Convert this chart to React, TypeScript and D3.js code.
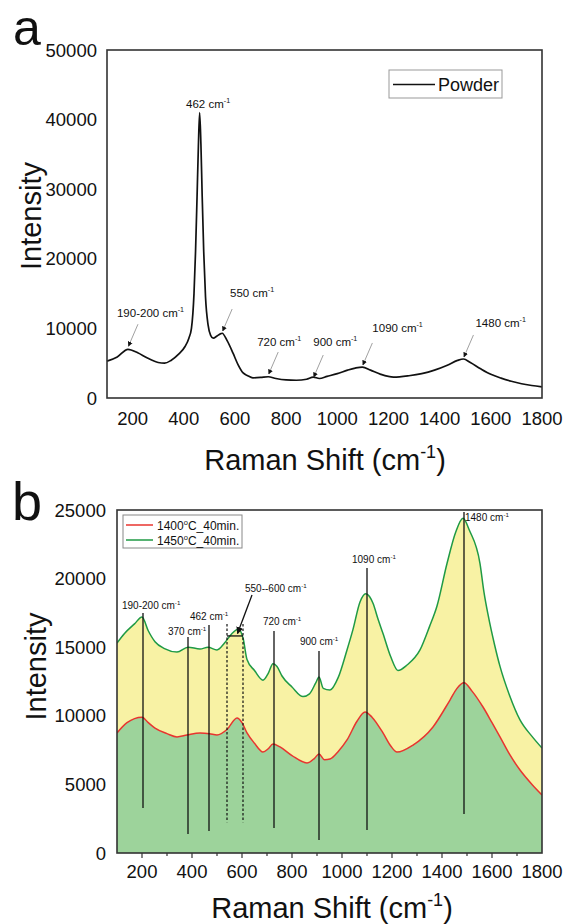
import React from 'react';
import * as d3 from 'd3';

const FONT = '"Liberation Sans", Arial, Helvetica, sans-serif';

// ---------- Data ----------
const xTicks = [200, 400, 600, 800, 1000, 1200, 1400, 1600, 1800];
const xMinorTicks = [200, 300, 400, 500, 600, 700, 800, 900, 1000, 1100, 1200, 1300, 1400, 1500, 1600, 1700];
const yTicksA = [0, 10000, 20000, 30000, 40000, 50000];
const yTicksB = [0, 5000, 10000, 15000, 20000, 25000];

// Panel a: Powder spectrum [Raman shift, intensity]
const powder: [number, number][] = [
  [100, 5300], [140, 5900], [182, 7000], [220, 6500], [260, 5700], [300, 5100], [325, 5000],
  [350, 5400], [380, 6300], [405, 7400], [420, 8600], [430, 10000], [440, 15000], [446, 21000],
  [452, 29000], [457, 36000], [462, 41000], [467, 36500], [472, 29000], [478, 21000], [485, 14500],
  [495, 10500], [505, 9000], [515, 8600], [530, 8900], [542, 9200], [550, 9300], [570, 8200],
  [593, 6400], [612, 4800], [632, 3600], [650, 3200], [670, 2900], [700, 2950], [730, 3050],
  [760, 2800], [800, 2600], [840, 2550], [880, 2700], [906, 3000], [930, 2800], [960, 3100],
  [1000, 3500], [1040, 4000], [1070, 4300], [1098, 4450], [1130, 4000], [1170, 3400], [1220, 3000],
  [1280, 3200], [1330, 3500], [1380, 4000], [1430, 4700], [1470, 5400], [1493, 5600], [1520, 5100],
  [1560, 4200], [1600, 3400], [1640, 2850], [1680, 2400], [1720, 2050], [1760, 1800], [1800, 1600],
];

// Panel b: 1450°C_40min (green line, yellow fill)
const s1450: [number, number][] = [
  [100, 15300], [130, 16000], [170, 16700], [200, 17200], [225, 16200], [252, 15400], [290, 14900],
  [340, 14650], [384, 15000], [432, 14870], [464, 15000], [500, 14800], [530, 15300], [560, 16000],
  [585, 16300], [605, 15600], [620, 14100], [650, 13300], [684, 12600], [705, 13100], [724, 13800],
  [740, 13600], [760, 12900], [800, 12100], [844, 11400], [870, 11600], [895, 12400], [908, 12830],
  [925, 12000], [952, 11880], [985, 12800], [1020, 14800], [1044, 16300], [1072, 18300], [1095, 18900],
  [1110, 18700], [1124, 18200], [1145, 17000], [1164, 16000], [1195, 14300], [1224, 13300], [1260, 13700],
  [1312, 14800], [1350, 16500], [1380, 18000], [1420, 21100], [1455, 23400], [1484, 24400], [1510, 23500],
  [1552, 21100], [1568, 19000], [1585, 17300], [1610, 15200], [1632, 13600], [1670, 11500], [1712, 9700],
  [1760, 8500], [1800, 7650],
];

// Panel b: 1400°C_40min (red line, green fill)
const s1400: [number, number][] = [
  [100, 8750], [140, 9500], [200, 9900], [225, 9500], [252, 9100], [300, 8700], [340, 8460],
  [380, 8600], [432, 8750], [470, 8700], [500, 8600], [540, 9000], [580, 9840], [600, 9500],
  [620, 8750], [650, 8000], [684, 7360], [705, 7600], [724, 7950], [752, 7730], [800, 7100],
  [860, 6560], [890, 6900], [908, 7220], [930, 6800], [952, 6850], [985, 7400], [1020, 8240],
  [1060, 9600], [1092, 10280], [1120, 9900], [1164, 8750], [1195, 7800], [1220, 7360], [1284, 7870],
  [1364, 9190], [1432, 11150], [1460, 12000], [1488, 12400], [1520, 11800], [1564, 10640], [1600, 9500],
  [1632, 8460], [1670, 7200], [1712, 6050], [1760, 5000], [1800, 4230],
];

// Panel a annotations: arrow tip on the peak, label start (cm-1, intensity)
const annA = [
  { name: '190-200 ', tip: [182, 7300], label: [139, 11640] },
  { name: '550 ', tip: [550, 9480], label: [581, 14510] },
  { name: '720 ', tip: [730, 3300], label: [687, 7470] },
  { name: '900 ', tip: [906, 2870], label: [906, 7470] },
  { name: '1090 ', tip: [1098, 4600], label: [1137, 9480] },
  { name: '1480 ', tip: [1493, 5750], label: [1540, 10200] },
];
const annA462 = { name: '462 ', label: [409, 41700] };

// Panel b annotations: vertical marker lines
const annB = [
  { name: '190-200 ', x: 204, top: 17500, bottom: 3280, label: [120, 17790] },
  { name: '370 ', x: 384, top: 15750, bottom: 1385, label: [304, 15890] },
  { name: '462 ', x: 468, top: 16620, bottom: 1600, label: [392, 16990] },
  { name: '720 ', x: 728, top: 16180, bottom: 1820, label: [684, 16620] },
  { name: '900 ', x: 908, top: 14730, bottom: 950, label: [832, 15160] },
  { name: '1090 ', x: 1100, top: 20780, bottom: 1680, label: [1040, 21140] },
  { name: '1480 ', x: 1488, top: 24860, bottom: 2840, label: [1492, 24200] },
];
const bandB = {
  name: '550--600 ', x0: 540, x1: 604, top: 16700, bottom: 2250, box: 15820,
  from: [640, 18810], to: [582, 16000], label: [612, 19030],
};

const legendB = [
  { name: '1400', color: '#e8342f' },
  { name: '1450', color: '#1f9a45' },
];

// ---------- Helpers ----------
function CmText({ x, y, size, prefix, anchor = 'start' }: any) {
  return (
    <text x={x} y={y} fontSize={size} fontFamily={FONT} fill="#111" textAnchor={anchor}>
      {prefix}cm
      <tspan fontSize={size * 0.62} dy={-size * 0.42}>-1</tspan>
    </text>
  );
}

function AxisTitle({ x, y, size }: any) {
  return (
    <text x={x} y={y} fontSize={size} fontFamily={FONT} fill="#111" textAnchor="middle">
      Raman Shift (cm
      <tspan fontSize={size * 0.62} dy={-size * 0.42}>-1</tspan>
      <tspan dy={size * 0.42}>)</tspan>
    </text>
  );
}

export default function App() {
  // Panel a geometry
  const A = { l: 107, r: 542, t: 50, b: 398 };
  const xA = d3.scaleLinear().domain([100, 1800]).range([A.l, A.r]);
  const yA = d3.scaleLinear().domain([0, 50000]).range([A.b, A.t]);
  const lineA = d3.line<[number, number]>().x(d => xA(d[0])).y(d => yA(d[1])).curve(d3.curveMonotoneX);

  // Panel b geometry
  const B = { l: 117, r: 542, t: 510, b: 853 };
  const xB = d3.scaleLinear().domain([100, 1800]).range([B.l, B.r]);
  const yB = d3.scaleLinear().domain([0, 25000]).range([B.b, B.t]);
  const lineB = d3.line<[number, number]>().x(d => xB(d[0])).y(d => yB(d[1])).curve(d3.curveMonotoneX);
  const areaB = d3.area<[number, number]>().x(d => xB(d[0])).y0(yB(0)).y1(d => yB(d[1])).curve(d3.curveMonotoneX);

  const tickFont = 18.5;
  const titleFont = 29;

  return (
    <svg width={565} height={924} style={{ position: 'absolute', left: 0, top: 0, background: '#fff' }}>
      <defs>
        <marker id="arr" viewBox="0 0 10 10" refX="9" refY="5" markerWidth="5" markerHeight="6"
          markerUnits="userSpaceOnUse" orient="auto">
          <path d="M0,0 L10,5 L0,10 z" fill="#111" />
        </marker>
        <marker id="arr2" viewBox="0 0 10 10" refX="9" refY="5" markerWidth="7" markerHeight="7"
          markerUnits="userSpaceOnUse" orient="auto">
          <path d="M0,0 L10,5 L0,10 z" fill="#111" />
        </marker>
        <clipPath id="clipB">
          <rect x={B.l} y={B.t} width={B.r - B.l} height={B.b - B.t} />
        </clipPath>
      </defs>

      {/* ===== Panel a ===== */}
      <text x={13} y={45} fontSize={50} fontFamily={FONT} fill="#111">a</text>
      {yTicksA.map(v => (
        <text key={v} x={97} y={yA(v)} dy="0.36em" fontSize={tickFont} fontFamily={FONT} textAnchor="end" fill="#111">{v}</text>
      ))}
      {xTicks.map(v => (
        <text key={v} x={xA(v)} y={425} fontSize={tickFont} fontFamily={FONT} textAnchor="middle" fill="#111">{v}</text>
      ))}
      <text transform={`translate(41,${(A.t + A.b) / 2 - 8}) rotate(-90)`} fontSize={titleFont} fontFamily={FONT}
        textAnchor="middle" fill="#111">Intensity</text>
      <AxisTitle x={325} y={470} size={titleFont} />

      <path d={lineA(powder) || ''} fill="none" stroke="#111" strokeWidth={1.7} />
      {annA.map(a => {
        const tx = xA(a.tip[0]);
        const ty = yA(a.tip[1]);
        return (
          <g key={a.name}>
            <line x1={tx + 10} y1={ty - 23} x2={tx + 0.5} y2={ty - 1} stroke="#888" strokeWidth={0.8} markerEnd="url(#arr)" />
            <CmText x={xA(a.label[0])} y={yA(a.label[1])} size={11.5} prefix={a.name} />
          </g>
        );
      })}
      <CmText x={xA(annA462.label[0])} y={yA(annA462.label[1])} size={11.5} prefix={annA462.name} />

      <rect x={389} y={70} width={113} height={28} fill="#fff" stroke="#999" strokeWidth={1} />
      <line x1={393} x2={435} y1={84.5} y2={84.5} stroke="#111" strokeWidth={1.6} />
      <text x={438} y={91} fontSize={18} fontFamily={FONT} fill="#111">Powder</text>

      <rect x={A.l} y={A.t} width={A.r - A.l} height={A.b - A.t} fill="none" stroke="#333" strokeWidth={1.6} />

      {/* ===== Panel b ===== */}
      <text x={12} y={520} fontSize={54} fontFamily={FONT} fill="#111">b</text>
      {yTicksB.map(v => (
        <text key={v} x={106} y={yB(v)} dy="0.36em" fontSize={tickFont} fontFamily={FONT} textAnchor="end" fill="#111">{v}</text>
      ))}
      {xTicks.map(v => (
        <text key={v} x={xB(v)} y={878} fontSize={tickFont} fontFamily={FONT} textAnchor="middle" fill="#111">{v}</text>
      ))}
      {xMinorTicks.map(v => (
        <line key={v} x1={xB(v)} x2={xB(v)} y1={B.b} y2={B.b + (v % 200 === 0 ? 5 : 3)} stroke="#333" strokeWidth={1.2} />
      ))}
      <text transform={`translate(46,${(B.t + B.b) / 2 - 15}) rotate(-90)`} fontSize={titleFont} fontFamily={FONT}
        textAnchor="middle" fill="#111">Intensity</text>
      <AxisTitle x={332} y={918} size={titleFont} />

      <g clipPath="url(#clipB)">
        <path d={areaB(s1450) || ''} fill="#f8f2a4" />
        <path d={areaB(s1400) || ''} fill="#9dd39b" />
        <path d={lineB(s1450) || ''} fill="none" stroke={legendB[1].color} strokeWidth={1.5} />
        <path d={lineB(s1400) || ''} fill="none" stroke={legendB[0].color} strokeWidth={1.5} />
      </g>

      {annB.map(a => (
        <g key={a.name}>
          <line x1={xB(a.x)} x2={xB(a.x)} y1={yB(a.top)} y2={yB(a.bottom)} stroke="#111" strokeWidth={1.3} />
          <CmText x={xB(a.label[0])} y={yB(a.label[1])} size={10} prefix={a.name} />
        </g>
      ))}
      <line x1={xB(bandB.x0)} x2={xB(bandB.x0)} y1={yB(bandB.top)} y2={yB(bandB.bottom)} stroke="#111" strokeWidth={1.2} strokeDasharray="2.5,2" />
      <line x1={xB(bandB.x1)} x2={xB(bandB.x1)} y1={yB(bandB.top)} y2={yB(bandB.bottom)} stroke="#111" strokeWidth={1.2} strokeDasharray="2.5,2" />
      <line x1={xB(bandB.x0)} x2={xB(bandB.x1)} y1={yB(bandB.box)} y2={yB(bandB.box)} stroke="#111" strokeWidth={1.3} />
      <line x1={xB(bandB.from[0])} y1={yB(bandB.from[1])} x2={xB(bandB.to[0])} y2={yB(bandB.to[1])} stroke="#111" strokeWidth={1.3} markerEnd="url(#arr2)" />
      <CmText x={xB(bandB.label[0])} y={yB(bandB.label[1])} size={10} prefix={bandB.name} />

      <rect x={123} y={515} width={119} height={33} fill="#fff" stroke="#888" strokeWidth={1} />
      {legendB.map((s, i) => (
        <g key={s.name}>
          <line x1={126} x2={153} y1={525 + i * 15} y2={525 + i * 15} stroke={s.color} strokeWidth={1.5} />
          <text x={157} y={529.5 + i * 15} fontSize={12} fontFamily={FONT} fill="#111">
            {s.name}
            <tspan fontSize={7.5} dy={-4.5}>o</tspan>
            <tspan dy={4.5}>C_40min.</tspan>
          </text>
        </g>
      ))}

      <rect x={B.l} y={B.t} width={B.r - B.l} height={B.b - B.t} fill="none" stroke="#333" strokeWidth={1.6} />
    </svg>
  );
}
